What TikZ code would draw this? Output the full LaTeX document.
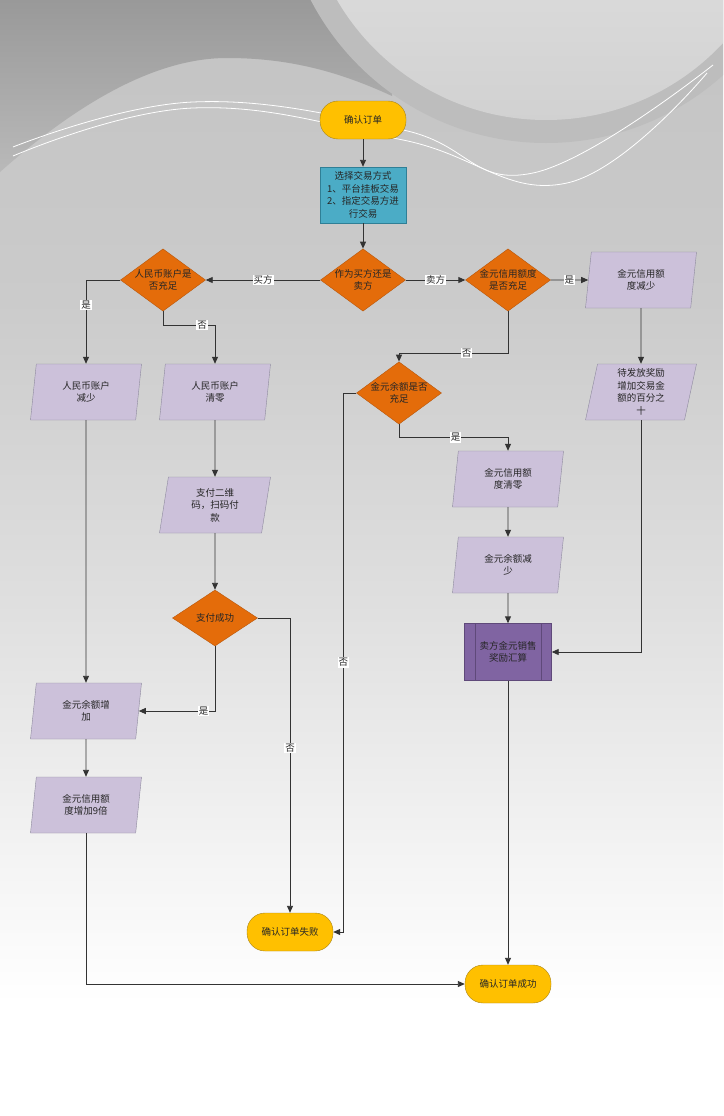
\documentclass[tikz,border=0pt]{standalone}
\usepackage{fontspec}
\newfontfamily\cjk{Noto Sans CJK SC}
\usetikzlibrary{shapes.geometric,arrows.meta}
\definecolor{bgA}{HTML}{F3F3F3}
\definecolor{bgB}{HTML}{DFDFDF}
\definecolor{bgC}{HTML}{CBCBCB}
\definecolor{bgD}{HTML}{C3C3C3}
\definecolor{bgdark}{HTML}{999999}
\definecolor{bgmid}{HTML}{B9B9B9}
\definecolor{ringgray}{HTML}{BDBDBD}
\definecolor{termfill}{HTML}{FFC000}
\definecolor{termline}{HTML}{A88418}
\definecolor{tealfill}{HTML}{4BACC6}
\definecolor{tealline}{HTML}{2F7F96}
\definecolor{decfill}{HTML}{E46C0A}
\definecolor{decline}{HTML}{B8560A}
\definecolor{iofill}{HTML}{CCC1DA}
\definecolor{ioline}{HTML}{8E8A9E}
\definecolor{subfill}{HTML}{8064A2}
\definecolor{subline}{HTML}{5F497A}
\pgfdeclareverticalshading{bgfade}{100bp}{color(0bp)=(white); color(30bp)=(white); color(37bp)=(bgA); color(48bp)=(bgB); color(61.5bp)=(bgC); color(75bp)=(bgD); color(100bp)=(bgD)}
\tikzset{
  base/.style={font=\cjk\fontsize{9.5}{12.5}\selectfont, align=center, text=black!85},
  terminal/.style={base, rectangle, rounded corners=18pt, fill=termfill, draw=termline, minimum width=86pt, minimum height=38pt},
  choosebox/.style={base, rectangle, fill=tealfill, draw=tealline, minimum width=86pt, minimum height=56pt, inner sep=1pt},
  decide/.style={base, diamond, fill=decfill, draw=decline, inner sep=-4pt, minimum width=85pt, minimum height=56pt},
  io/.style={base, trapezium, trapezium left angle=76, trapezium right angle=104, trapezium stretches body, fill=iofill, draw=ioline, minimum width=111pt, minimum height=56pt, inner sep=1pt},
  subproc/.style={base, rectangle, fill=subfill, draw=subline, minimum width=87pt, minimum height=57pt},
  line/.style={draw=black!80, line width=0.9pt, -{Triangle[length=7pt,width=6pt]}},
  lab/.style={base, fill=white, inner sep=1pt}
}
\begin{document}
\begin{tikzpicture}[x=1pt,y=-1pt]
  \useasboundingbox (0,0) rectangle (723,1116);
  % Nền
  \begin{scope}
    \clip (0,0) rectangle (723,1116);
    \shade[shading=bgfade] (0,0) rectangle (723,1116);
    \shade[top color=bgdark, bottom color=bgmid] (0,0) -- (0,172) .. controls (70,110) and (150,58) .. (227,58) .. controls (290,58) and (340,72) .. (392,96) -- (392,0) -- cycle;
    \fill[ringgray] (546,-122) circle (265);
    \shade[top color=white!95!black, bottom color=white!82!black] (546,-122) circle (242);
    \draw[white, line width=0.8pt] plot[smooth, tension=0.7] coordinates {(13,147) (193,102) (403,130) (533,173) (713,65)};
    \draw[white, line width=0.8pt] plot[smooth, tension=0.7] coordinates {(13,156) (193,108) (403,140) (567,183) (707,73)};
  \end{scope}
  % Các khối
  \node[terminal] (start) at (363,120) {确认订单};
  \node[choosebox] (choose) at (363,195) {选择交易方式\\1、平台挂板交易\\2、指定交易方进\\行交易};
  \node[decide] (role) at (363,280) {作为买方还是\\卖方};
  \node[decide] (rmbok) at (163,280) {人民币账户是\\否充足};
  \node[decide] (credok) at (508,280) {金元信用额度\\是否充足};
  \node[io] (credcut) at (641,280) {金元信用额\\度减少};
  \node[io] (bonus) at (641,392) {待发放奖励\\增加交易金\\额的百分之\\十};
  \node[decide] (goldok) at (399,393) {金元余额是否\\充足};
  \node[io] (rmbcut) at (86,392) {人民币账户\\减少};
  \node[io] (rmbzero) at (215,392) {人民币账户\\清零};
  \node[io] (qrpay) at (215,505) {支付二维\\码，扫码付\\款};
  \node[decide] (paid) at (215,618) {支付成功};
  \node[io] (goldadd) at (86,711) {金元余额增\\加};
  \node[io] (credx9) at (86,805) {金元信用额\\度增加9倍};
  \node[io] (credzero) at (508,479) {金元信用额\\度清零};
  \node[io] (goldcut) at (508,565) {金元余额减\\少};
  \node[subproc] (settle) at (508,652) {卖方金元销售\\奖励汇算};
  \draw[subline] ([xshift=11pt]settle.north west) -- ([xshift=11pt]settle.south west);
  \draw[subline] ([xshift=-11pt]settle.north east) -- ([xshift=-11pt]settle.south east);
  \node[terminal] (fail) at (290,932) {确认订单失败};
  \node[terminal] (done) at (508,984) {确认订单成功};
  % Mũi tên
  \draw[line] (start) -- (choose);
  \draw[line] (choose) -- (role);
  \draw[line] (role.west) -- node[lab] {买方} (rmbok.east);
  \draw[line] (role.east) -- node[lab] {卖方} (credok.east -| credok.west);
  \draw[line] (credok.east) -- node[lab] {是} (credcut.west);
  \draw[line] (credok.south) -- ++(0,42) -| node[lab, pos=0.19] {否} (goldok.north);
  \draw[line] (credcut) -- (bonus);
  \draw[line] (bonus.south) |- (settle.east);
  \draw[line] (goldok.south) -- ++(0,13) -| node[lab, pos=0.26] {是} (credzero.north);
  \draw[line] (credzero) -- (goldcut);
  \draw[line] (goldcut) -- (settle);
  \draw[line] (settle) -- (done);
  \draw[line] (goldok.west) -- ++(-13,0) |- node[lab, pos=0.25] {否} (fail.east);
  \draw[line] (rmbok.west) -| node[lab, pos=0.65] {是} (rmbcut.north);
  \draw[line] (rmbok.south) -- ++(0,14) -| node[lab, pos=0.375] {否} (rmbzero.north);
  \draw[line] (rmbzero) -- (qrpay);
  \draw[line] (qrpay) -- (paid);
  \draw[line] (paid.south) |- node[lab, pos=0.575] {是} (goldadd.east);
  \draw[line] (paid.east) -| node[lab, pos=0.72] {否} (fail.north);
  \draw[line] (rmbcut) -- (goldadd);
  \draw[line] (goldadd) -- (credx9);
  \draw[line] (credx9.south) |- (done.west);
\end{tikzpicture}
\end{document}
